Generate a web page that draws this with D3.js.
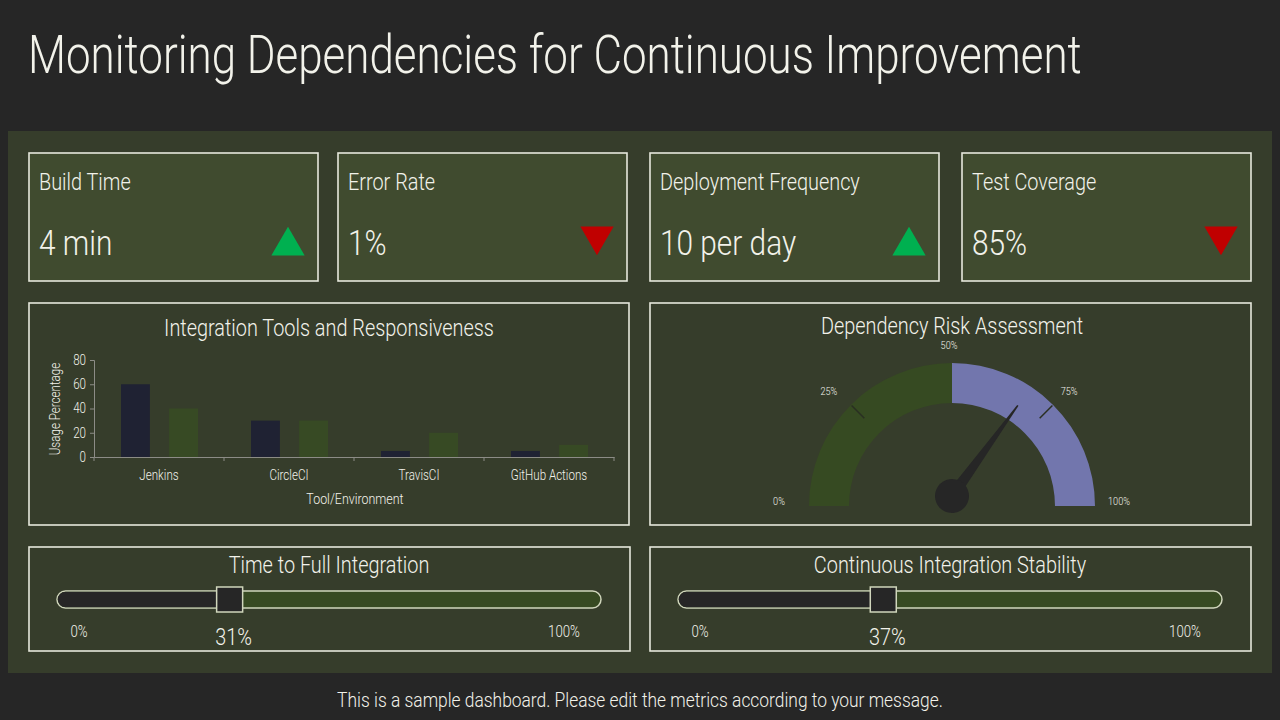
<!DOCTYPE html>
<html>
<head>
<meta charset="utf-8">
<script src="https://cdn.jsdelivr.net/npm/d3@7"></script>
<style>
  html, body { margin: 0; padding: 0; background: #262626; }
  svg { display: block; }
  text { font-family: Roboto, "Liberation Sans", sans-serif; font-weight: 300; fill: #f2f2ea; }
</style>
</head>
<body>
<script>
// ---- data ----
var kpiNames = ["Build Time", "Error Rate", "Deployment Frequency", "Test Coverage"];
var kpiValues = ["4 min", "1%", "10 per day", "85%"];
var kpiTrend = ["up", "down", "up", "down"];

var tools = ["Jenkins", "CircleCI", "TravisCI", "GitHub Actions"];
var usageA = [60, 30, 5, 5];
var usageB = [40, 30, 20, 10];
var yTicks = [0, 20, 40, 60, 80];

var gaugeTicks = [0, 25, 50, 75, 100];
var gaugeSplit = 50;
var riskValue = 70;

var sliderNames = ["Time to Full Integration", "Continuous Integration Stability"];
var sliderValues = [31, 37];
var sliderEnds = ["0%", "100%"];

(function() {
    var w = 1280;
    var h = 720;

    var svg = d3.select("body").append("svg")
        .attr("width", w)
        .attr("height", h);

    svg.append("rect").attr("width", w).attr("height", h).attr("fill", "#262626");

    var title = svg.append("text")
        .text("Monitoring Dependencies for Continuous Improvement")
        .attr("x", 28).attr("y", 73)
        .attr("font-size", 53);

    // green backdrop
    svg.append("rect")
        .attr("x", 8).attr("y", 131).attr("width", 1264).attr("height", 542)
        .attr("fill", "#363d2b");

    function box(x, y, bw, bh, fill) {
        return svg.append("rect")
            .attr("x", x).attr("y", y).attr("width", bw).attr("height", bh)
            .attr("fill", fill)
            .attr("stroke", "#e6e8dc").attr("stroke-width", 1.6);
    }

    // ---- KPI cards ----
    var cardX = [29, 338, 650, 962];
    var cardW = 289;
    kpiNames.forEach(function(name, i) {
        var x = cardX[i];
        box(x, 153, cardW, 128, "#404b2f");
        svg.append("text").text(name)
            .attr("x", x + 10).attr("y", 190)
            .attr("font-size", 24);
        svg.append("text").text(kpiValues[i])
            .attr("x", x + 10).attr("y", 255)
            .attr("font-size", 36);
        var up = kpiTrend[i] == "up";
        svg.append("path")
            .attr("d", d3.symbol(d3.symbolTriangle, 480)())
            .attr("transform", "translate(" + (x + cardW - 30) + "," + (up ? 246 : 236) + ")" + (up ? "" : " rotate(180)"))
            .attr("fill", up ? "#00b050" : "#c00000");
    });

    // ---- bar chart ----
    box(29, 303, 600, 222, "#363d2b");
    svg.append("text").text("Integration Tools and Responsiveness")
        .attr("x", 329).attr("y", 336)
        .attr("text-anchor", "middle")
        .attr("font-size", 24);

    var x0 = d3.scaleBand().domain(tools).range([94, 614]);
    var x1 = d3.scaleBand().domain([0, 1]).range([27, 104]).paddingInner(0.4);
    var y = d3.scaleLinear().domain([0, 80]).range([457, 360]);
    var barColors = ["#1f2233", "#374a24"];

    var groups = svg.selectAll("g.tool")
        .data(tools)
        .enter()
        .append("g")
        .attr("class", "tool")
        .attr("transform", function(d) { return "translate(" + x0(d) + ",0)"; });

    groups.selectAll("rect")
        .data(function(d, i) { return [usageA[i], usageB[i]]; })
        .enter()
        .append("rect")
        .attr("x", function(d, j) { return x1(j); })
        .attr("y", function(d) { return y(d); })
        .attr("width", x1.bandwidth())
        .attr("height", function(d) { return y(0) - y(d); })
        .attr("fill", function(d, j) { return barColors[j]; });

    var yAxis = svg.append("g")
        .attr("transform", "translate(94,0)")
        .call(d3.axisLeft(y).tickValues(yTicks).tickSize(4).tickPadding(4));
    yAxis.attr("font-family", null).attr("font-size", null);
    yAxis.selectAll("line").attr("stroke", "#8c8c86");
    yAxis.select(".domain").attr("stroke", "#8c8c86");
    yAxis.selectAll("text").attr("font-size", 14).attr("fill", "#e0e0d8");

    var xAxis = svg.append("g")
        .attr("transform", "translate(0,457)")
        .call(d3.axisBottom(x0).tickSize(0).tickPadding(13));
    xAxis.attr("font-family", null).attr("font-size", null);
    xAxis.select(".domain").attr("stroke", "#8c8c86");
    xAxis.selectAll("text").attr("font-size", 14).attr("fill", "#e0e0d8");
    // category boundary ticks
    xAxis.selectAll("line.edge")
        .data(tools.map(function(d) { return x0(d); }).concat([x0.range()[1]]))
        .enter()
        .append("line")
        .attr("class", "edge")
        .attr("x1", function(d) { return d; }).attr("x2", function(d) { return d; })
        .attr("y1", 0).attr("y2", 4)
        .attr("stroke", "#8c8c86");

    svg.append("text").text("Tool/Environment")
        .attr("x", 355).attr("y", 504)
        .attr("text-anchor", "middle")
        .attr("font-size", 15);
    svg.append("text").text("Usage Percentage")
        .attr("transform", "translate(60,409) rotate(-90)")
        .attr("text-anchor", "middle")
        .attr("font-size", 14);

    // ---- gauge ----
    box(650, 303, 601, 222, "#363d2b");
    svg.append("text").text("Dependency Risk Assessment")
        .attr("x", 952).attr("y", 334)
        .attr("text-anchor", "middle")
        .attr("font-size", 24);

    var cx = 952, cy = 506;
    var rOut = 143, rIn = 103;
    var ang = d3.scaleLinear().domain([0, 100]).range([-Math.PI / 2, Math.PI / 2]);
    var arc = d3.arc().innerRadius(rIn).outerRadius(rOut);
    var g = svg.append("g").attr("transform", "translate(" + cx + "," + cy + ")");
    g.append("path")
        .attr("d", arc({ startAngle: ang(0), endAngle: ang(gaugeSplit) }))
        .attr("fill", "#364a22");
    g.append("path")
        .attr("d", arc({ startAngle: ang(gaugeSplit), endAngle: ang(100) }))
        .attr("fill", "#7276ad");

    g.selectAll("line.gtick")
        .data(gaugeTicks.filter(function(d) { return d != 0 && d != 100 && d != gaugeSplit; }))
        .enter()
        .append("line")
        .attr("class", "gtick")
        .attr("x1", function(d) { return Math.sin(ang(d)) * 124; })
        .attr("y1", function(d) { return -Math.cos(ang(d)) * 124; })
        .attr("x2", function(d) { return Math.sin(ang(d)) * 142; })
        .attr("y2", function(d) { return -Math.cos(ang(d)) * 142; })
        .attr("stroke", "#2a2f22").attr("stroke-width", 1.5);

    g.selectAll("text.glab")
        .data(gaugeTicks)
        .enter()
        .append("text")
        .attr("class", "glab")
        .text(function(d) { return d + "%"; })
        .attr("x", function(d) { return Math.sin(ang(d)) * 170 - 3; })
        .attr("y", function(d) { return -Math.cos(ang(d)) * 156 - 1; })
        .attr("text-anchor", "middle")
        .attr("font-size", 11)
        .attr("fill", "#d8d8d0");

    // needle
    var hubY = -10;
    var needle = g.append("g").attr("transform", "translate(0," + hubY + ") rotate(" + (ang(riskValue) * 180 / Math.PI) + ")");
    needle.append("path")
        .attr("d", "M-6,0 L-0.8,-112 L0.8,-112 L6,0 Z")
        .attr("fill", "#262626");
    needle.append("circle").attr("r", 17).attr("fill", "#262626");

    // ---- sliders ----
    var sliderX = [29, 650];
    sliderNames.forEach(function(name, i) {
        var px = sliderX[i];
        box(px, 547, 601, 104, "#363d2b");
        svg.append("text").text(name)
            .attr("x", px + 300).attr("y", 573)
            .attr("text-anchor", "middle")
            .attr("font-size", 24);

        var sx = d3.scaleLinear().domain([0, 100]).range([px + 32, px + 576]);
        var t0 = px + 28, t1 = px + 572;
        var hx = sx(sliderValues[i]);
        var ty = 591, th = 17, r = th / 2;
        svg.append("rect")
            .attr("x", t0).attr("y", ty).attr("width", t1 - t0).attr("height", th)
            .attr("rx", r)
            .attr("fill", "#374a22")
            .attr("stroke", "#d0d6bc").attr("stroke-width", 1.5);
        svg.append("path")
            .attr("d", "M" + hx + "," + (ty + 0.75) + " H" + (t0 + r) +
                " A" + (r - 0.75) + "," + (r - 0.75) + " 0 0 0 " + (t0 + r) + "," + (ty + th - 0.75) +
                " H" + hx + " Z")
            .attr("fill", "#262626");
        svg.append("rect")
            .attr("x", hx - 13).attr("y", 587).attr("width", 26).attr("height", 25)
            .attr("fill", "#262626")
            .attr("stroke", "#d0d6bc").attr("stroke-width", 1.5);

        svg.append("text").text(sliderEnds[0])
            .attr("x", px + 50).attr("y", 637)
            .attr("text-anchor", "middle")
            .attr("font-size", 16);
        svg.append("text").text(sliderEnds[1])
            .attr("x", px + 535).attr("y", 637)
            .attr("text-anchor", "middle")
            .attr("font-size", 16);
        svg.append("text").text(sliderValues[i] + "%")
            .attr("x", hx + 4).attr("y", 645)
            .attr("text-anchor", "middle")
            .attr("font-size", 24);
    });

    svg.append("text").text("This is a sample dashboard. Please edit the metrics according to your message.")
        .attr("x", 640).attr("y", 707)
        .attr("text-anchor", "middle")
        .attr("font-size", 21)
        .attr("fill", "#e4e4e0");

    // the reference uses a condensed face: squeeze every text around its anchor by the title's ratio
    var k = 1054 / title.node().getComputedTextLength();
    svg.selectAll("text").each(function() {
        var t = d3.select(this);
        var tx = +(t.attr("x") || 0);
        var old = t.attr("transform") || "";
        t.attr("transform", old + " translate(" + tx + ",0) scale(" + k + ",1) translate(" + (-tx) + ",0)");
    });
})();
</script>
</body>
</html>
